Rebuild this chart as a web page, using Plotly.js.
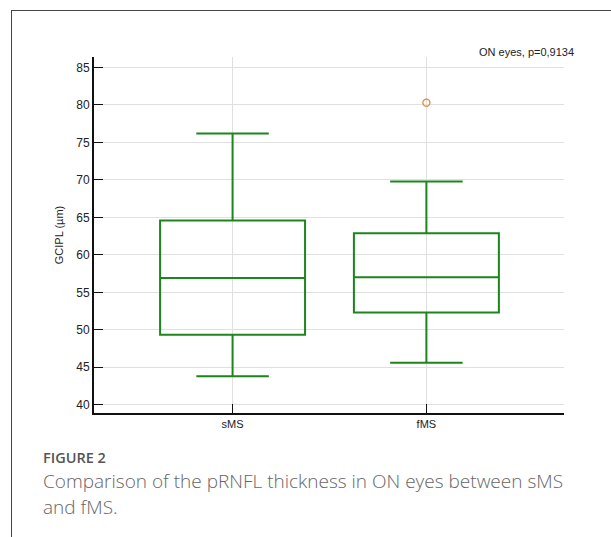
<!DOCTYPE html>
<html>
<head>
<meta charset="utf-8">
<script src="https://cdn.plot.ly/plotly-3.0.1.min.js"></script>
<style>
  html, body { margin: 0; padding: 0; background: #fff; }
  #wrap { position: relative; width: 611px; height: 537px; overflow: hidden; }
  #plot { position: absolute; left: 0; top: 0; width: 611px; height: 537px; }
  #frame { position: absolute; left: 11px; top: 10px; width: 620px; height: 540px;
           border-left: 1px solid #444; border-top: 1px solid #444; pointer-events: none; }
  #caphead { position: absolute; left: 43px; top: 448px; margin: 0;
             font-family: "Open Sans", sans-serif; font-size: 14.5px; font-weight: 600;
             line-height: 20px; color: #555; white-space: nowrap; }
  #captext { position: absolute; left: 43px; top: 468px; margin: 0;
             font-family: "Open Sans", sans-serif; font-size: 19px; font-weight: 300;
             line-height: 26px; color: #666; white-space: nowrap; }
</style>
</head>
<body>
<div id="wrap">
  <div id="plot"></div>
  <div id="frame"></div>
  <div id="caphead"></div>
  <div id="captext"></div>
</div>
<script>
// Data
const groups = ["sMS", "fMS"];
const lowerWhisker = [43.8, 45.6];
const q1Values = [49.35, 52.3];
const medianValues = [56.9, 57.0];
const q3Values = [64.6, 62.9];
const upperWhisker = [76.2, 69.8];
const outlierGroups = ["fMS"];
const outlierValues = [80.3];
const yTicks = [40, 45, 50, 55, 60, 65, 70, 75, 80, 85];

const chartTitle = "ON eyes, p=0,9134";
const yAxisTitle = "GCIPL (µm)";
const captionHead = "FIGURE 2";
const captionLines = ["Comparison of the pRNFL thickness in ON eyes between sMS", "and fMS."];

document.getElementById("caphead").textContent = captionHead;
const capEl = document.getElementById("captext");
captionLines.forEach((t, i) => {
  if (i > 0) capEl.appendChild(document.createElement("br"));
  capEl.appendChild(document.createTextNode(t));
});

const boxTrace = {
  type: "box",
  x: groups,
  q1: q1Values,
  median: medianValues,
  q3: q3Values,
  lowerfence: lowerWhisker,
  upperfence: upperWhisker,
  width: 0.748,
  line: { color: "#1c851c", width: 2 },
  fillcolor: "rgba(0,0,0,0)",
  whiskerwidth: 0.5,
  boxpoints: false,
  hoverinfo: "skip",
  showlegend: false
};

const outlierTrace = {
  type: "scatter",
  mode: "markers",
  x: outlierGroups,
  y: outlierValues,
  marker: { symbol: "circle-open", size: 7, color: "#f0822a", line: { width: 1.3, color: "#f0822a" } },
  showlegend: false,
  hoverinfo: "skip"
};

const L = 94, R = 47, T = 57, B = 124;
const plotW = 611 - L - R, plotH = 537 - T - B;
const py = (pix) => (537 - B - pix) / plotH;
const px = (pix) => (pix - L) / plotW;

const layout = {
  width: 611,
  height: 537,
  margin: { l: L, r: R, t: T, b: B, pad: 0 },
  paper_bgcolor: "rgba(0,0,0,0)",
  plot_bgcolor: "#ffffff",
  font: { family: "Liberation Sans, Arial, sans-serif", size: 11, color: "#222" },
  showlegend: false,
  xaxis: {
    type: "category",
    categoryorder: "array",
    categoryarray: groups,
    range: [-0.715, 1.71],
    showline: true,
    linecolor: "#111",
    linewidth: 2,
    ticks: "inside",
    ticklen: 9,
    tickwidth: 1,
    tickcolor: "#111",
    showgrid: true,
    gridcolor: "#e0e0e0",
    gridwidth: 1,
    zeroline: false,
    tickfont: { size: 11, color: "#222" },
    fixedrange: true
  },
  yaxis: {
    range: [38.9, 86.4],
    tickvals: yTicks,
    ticktext: yTicks.map(String),
    showline: true,
    linecolor: "#111",
    linewidth: 2,
    ticks: "inside",
    ticklen: 9,
    tickwidth: 1,
    tickcolor: "#111",
    showgrid: true,
    gridcolor: "#e0e0e0",
    gridwidth: 1,
    zeroline: false,
    tickfont: { size: 12, color: "#222" },
    title: { text: yAxisTitle, font: { size: 11, color: "#222" }, standoff: 10 },
    fixedrange: true
  },
  annotations: [
    {
      text: chartTitle,
      xref: "paper", yref: "paper",
      x: px(576), y: py(52),
      xanchor: "right", yanchor: "middle",
      showarrow: false,
      font: { size: 11, color: "#222" }
    }
  ]
};

Plotly.newPlot("plot", [boxTrace, outlierTrace], layout, { staticPlot: true, displayModeBar: false });
</script>
</body>
</html>
